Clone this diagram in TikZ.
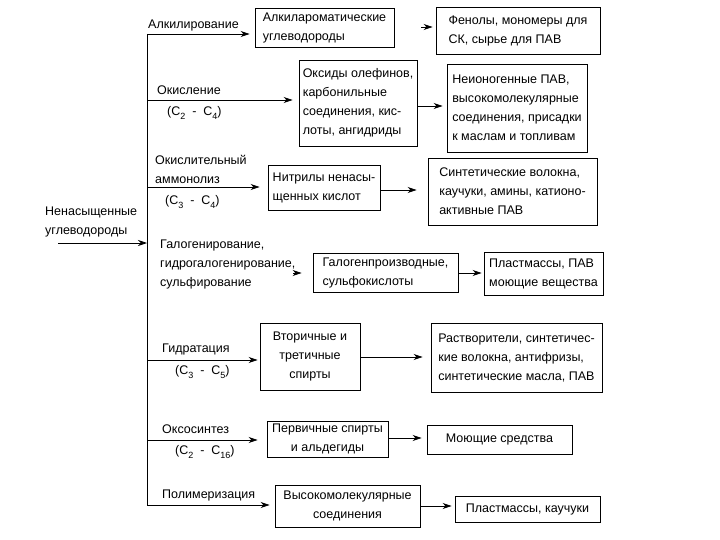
\documentclass[tikz,border=0pt]{standalone}
\usepackage{fontspec}
\setmainfont{Liberation Sans}
\usetikzlibrary{arrows.meta}
\newcommand{\sbx}[1]{\raisebox{-3.5pt}{\fontsize{9}{9}\selectfont #1}}
\begin{document}
\begin{tikzpicture}[x=1pt,y=-1pt,
  txt/.style={font=\fontsize{12.5}{19}\selectfont, inner sep=0pt, align=left},
  box/.style={draw, line width=0.9pt, font=\fontsize{12.5}{19}\selectfont, inner sep=0pt, align=left},
  arr/.style={line width=0.8pt, -{Stealth[length=9pt,width=6pt]}},
  ln/.style={line width=0.8pt}]
\useasboundingbox[fill=white] (0,0) rectangle (720,540);

% boxes
\node[box, minimum width=139pt, minimum height=39pt] (B1) at (324.5,27.5) {Алкилароматические\\углеводороды};
\node[box, minimum width=164pt, minimum height=47pt] (B2) at (518,30.5) {Фенолы, мономеры для\\СК, сырье для ПАВ};
\node[box, minimum width=118pt, minimum height=86pt] (B3) at (358,103) {Оксиды олефинов,\\карбонильные\\соединения, кис-\\лоты, ангидриды};
\node[box, minimum width=140pt, minimum height=88pt] (B4) at (517,108) {Неионогенные ПАВ,\\высокомолекулярные\\соединения, присадки\\к маслам и топливам};
\node[box, minimum width=112pt, minimum height=45pt] (B5) at (324,187.5) {Нитрилы ненасы-\\щенных кислот};
\node[box, minimum width=169pt, minimum height=67pt] (B6) at (512.5,191.5) {Синтетические волокна,\\каучуки, амины, катионо-\\активные ПАВ};
\node[box, minimum width=145pt, minimum height=39pt] (B7) at (385.5,272.5) {Галогенпроизводные,\\сульфокислоты};
\node[box, minimum width=119pt, minimum height=43pt] (B8) at (543.5,273.5) {Пластмассы, ПАВ\\моющие вещества};
\node[box, align=center, minimum width=100pt, minimum height=67pt] (B9) at (310,356.5) {Вторичные и\\третичные\\спирты};
\node[box, minimum width=171pt, minimum height=69pt] (B10) at (516.5,357.5) {Растворители, синтетичес-\\кие волокна, антифризы,\\синтетические масла, ПАВ};
\node[box, align=center, minimum width=121pt, minimum height=36pt] (B11) at (327.5,439) {Первичные спирты\\и альдегиды};
\node[box, minimum width=145pt, minimum height=29pt] (B12) at (499.5,439.5) {Моющие средства};
\node[box, align=center, minimum width=145pt, minimum height=42pt] (B13) at (347.5,506) {Высокомолекулярные\\соединения};
\node[box, minimum width=145pt, minimum height=26pt] (B14) at (527.5,509) {Пластмассы, каучуки};

% labels
\node[txt, anchor=west] (src) at (45,221.5) {Ненасыщенные\\углеводороды};
\node[txt, anchor=west] (l1) at (148,25) {Алкилирование};
\node[txt, anchor=west] (l2) at (157,90) {Окисление};
\node[txt, anchor=west] (l2b) at (167,113) {(C\sbx{2} ~-~ C\sbx{4})};
\node[txt, anchor=west] (l3) at (155,169) {Окислительный\\аммонолиз};
\node[txt, anchor=west] (l3b) at (165,202) {(C\sbx{3} ~-~ C\sbx{4})};
\node[txt, anchor=west] (l4) at (160,264) {Галогенирование,\\гидрогалогенирование,\\сульфирование};
\node[txt, anchor=west] (l5) at (162,349) {Гидратация};
\node[txt, anchor=west] (l5b) at (175,372) {(C\sbx{3} ~-~ C\sbx{5})};
\node[txt, anchor=west] (l6) at (162,429) {Оксосинтез};
\node[txt, anchor=west] (l6b) at (175,452) {(C\sbx{2} ~-~ C\sbx{16})};
\node[txt, anchor=west] (l7) at (162,495) {Полимеризация};

% trunk
\coordinate (t1) at (147,34);
\coordinate (t2) at (147,100);
\coordinate (t3) at (147,187);
\coordinate (t0) at (147,243);
\coordinate (t4) at (147,273);
\coordinate (t5) at (147,360);
\coordinate (t6) at (147,440);
\coordinate (t7) at (147,505);
\coordinate (s0) at (58,243);
\draw[ln] (t1) -- (t7);
\draw[arr] (s0) -- (t0);

\draw[arr, shorten >=5pt] (t1) -- (B1.west |- t1);
\draw[arr, shorten >=6pt] (t2) -- (B3.west |- t2);
\draw[arr, shorten >=8pt] (t3) -- (B5.west |- t3);
\draw[arr, shorten <=146pt, shorten >=11pt] (t4) -- (B7.west |- t4);
\draw[arr, shorten >=2pt] (t5) -- (B9.west |- t5);
\draw[arr, shorten >=9pt] (t6) -- (B11.west |- t6);
\draw[arr, shorten >=5pt] (t7) -- (B13.west |- t7);

% box-to-box
\draw[arr, shorten <=27pt, shorten >=3pt] (B1.east |- 0,27) -- (B2.west |- 0,27);
\draw[arr, shorten >=4pt] (B3.east |- 0,106) -- (B4.west |- 0,106);
\draw[arr, shorten >=11pt] (B5.east |- 0,190) -- (B6.west |- 0,190);
\draw[arr, shorten >=2pt] (B7.east |- 0,273) -- (B8.west |- 0,273);
\draw[arr, shorten >=8pt] (B9.east |- 0,357) -- (B10.west |- 0,357);
\draw[arr, shorten >=5pt] (B11.east |- 0,438) -- (B12.west |- 0,438);
\draw[arr, shorten >=3pt] (B13.east |- 0,506) -- (B14.west |- 0,506);
\end{tikzpicture}
\end{document}
